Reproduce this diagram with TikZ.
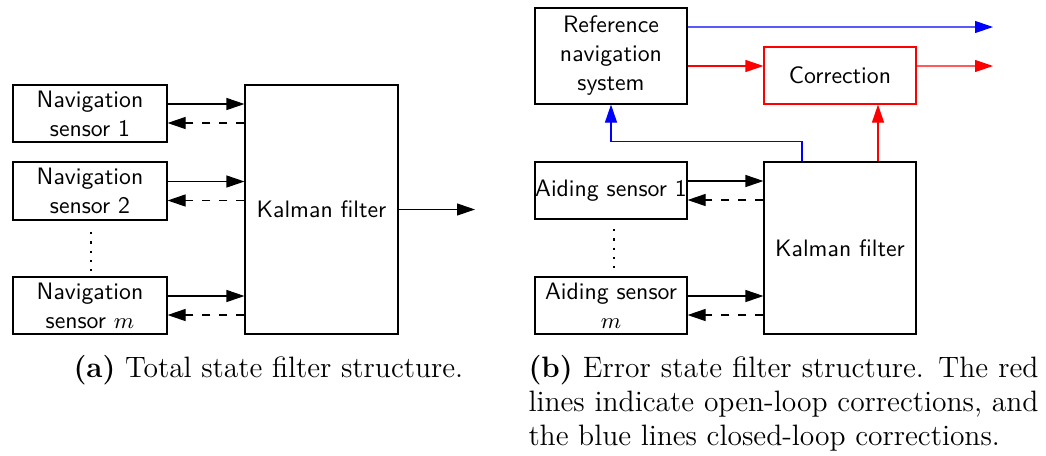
\documentclass[tikz,border=0pt]{standalone}
\usetikzlibrary{arrows.meta}
\begin{document}
\begin{tikzpicture}[x=0.4pt,y=-0.4pt,
  every node/.style={font=\sffamily\fontsize{9.5}{11.6}\selectfont},
  blk/.style={draw, line width=0.45pt, rectangle, inner sep=0pt, align=center, minimum width=61.6pt},
  conn/.style={line width=0.45pt, -{Triangle[length=7.2pt,width=4.8pt]}},
  back/.style={conn, dash pattern=on 3.2pt off 3.6pt},
  dotsline/.style={line width=0.9pt, dash pattern=on 0.9pt off 2.8pt},
  captext/.style={font=\rmfamily\fontsize{11.8}{13.6}\selectfont, inner sep=0pt, anchor=base west}
]
\useasboundingbox (0,0) rectangle (1046,455);
% ---------- (a) ----------
\node[blk, minimum height=22.8pt] (ns1) at (90,113.5) {Navigation\\sensor 1};
\node[blk, minimum height=23.2pt] (ns2) at (90,191) {Navigation\\sensor 2};
\node[blk, minimum height=22.8pt] (nsm) at (90,305.5) {Navigation\\sensor $m$};
\node[blk, minimum width=61.2pt, minimum height=99.6pt] (kf1) at (321.5,209.5) {Kalman filter};
\coordinate (out1) at (475,209.5);
\foreach \s in {ns1,ns2,nsm}{
  \draw[conn] ([yshift=3.8pt]\s.east) -- ([yshift=3.8pt]\s.east -| kf1.west);
  \draw[back] ([yshift=-3.8pt]\s.east -| kf1.west) -- ([yshift=-3.8pt]\s.east);
}
\draw[conn] (kf1.east) -- (out1);
\coordinate (d1a) at (91,232);
\coordinate (d1b) at (91,272);
\draw[dotsline] (d1a) -- (d1b);
% ---------- (b) ----------
\node[blk, minimum width=60.8pt, minimum height=38.4pt] (rns) at (611,56) {Reference\\navigation\\system};
\node[blk, draw=red, minimum width=60.8pt, minimum height=22.8pt] (corr) at (840,75.5) {Correction};
\node[blk, minimum width=60.8pt, minimum height=68.8pt] (kf2) at (840,248) {Kalman filter};
\node[blk, minimum width=60.8pt, minimum height=22.8pt] (as1) at (611,190.5) {Aiding sensor 1};
\node[blk, minimum width=60.8pt, minimum height=22.8pt] (asm) at (611,305.5) {Aiding sensor\\$m$};
\coordinate (outb) at (993,27);
\coordinate (outr) at (993,66);
\foreach \s in {as1,asm}{
  \draw[conn] ([yshift=3.8pt]\s.east) -- ([yshift=3.8pt]\s.east -| kf2.west);
  \draw[back] ([yshift=-3.8pt]\s.east -| kf2.west) -- ([yshift=-3.8pt]\s.east);
}
\draw[conn, blue] ([yshift=11.6pt]rns.east) -- (outb);
\draw[conn, red] ([yshift=3.8pt]corr.west -| rns.east) -- ([yshift=3.8pt]corr.west);
\draw[conn, red] ([yshift=3.8pt]corr.east) -- (outr);
\draw[conn, red] ([xshift=15.2pt]kf2.north) -- ([xshift=15.2pt]corr.south);
\draw[conn, blue] ([xshift=-15.2pt]kf2.north) -- ++(0,8pt) -| (rns.south);
\coordinate (d2a) at (614,229);
\coordinate (d2b) at (614,269);
\draw[dotsline] (d2a) -- (d2b);
% ---------- captions ----------
\node[captext] (capa) at (73,377) {\textbf{(a)} Total state filter structure.};
\node[captext] (capb1) at (528,377) {\makebox[204pt][s]{\textbf{(b)} Error state filter structure. The red}};
\node[captext] (capb2) at (528,411) {\makebox[204pt][s]{lines indicate open-loop corrections, and}};
\node[captext] (capb3) at (528,445) {the blue lines closed-loop corrections.};
\end{tikzpicture}
\end{document}
